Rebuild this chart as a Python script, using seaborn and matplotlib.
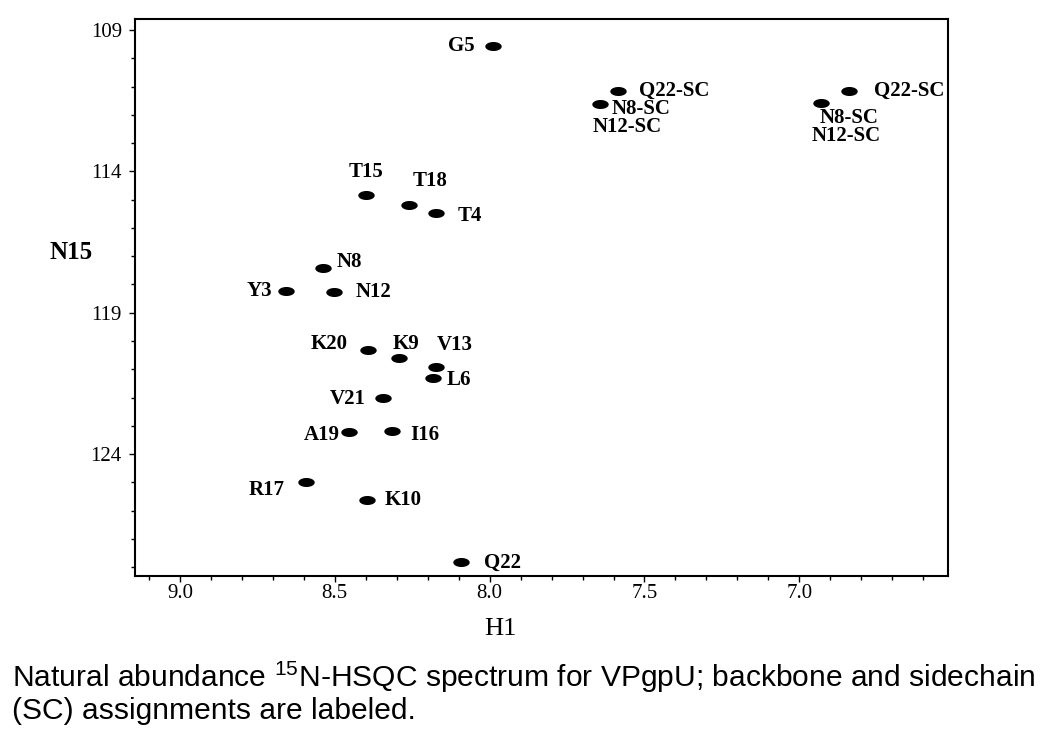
import numpy as np
import pandas as pd
import matplotlib
matplotlib.use("Agg")
import matplotlib.pyplot as plt
from matplotlib.ticker import MultipleLocator, FixedLocator
import seaborn as sns

# ---- data ----
labels = ["G5", "Q22-SC", "N8-SC", "N12-SC", "Q22-SC", "N8-SC", "N12-SC",
          "T15", "T18", "T4", "N8", "Y3", "N12", "K20", "K9", "V13", "L6",
          "V21", "A19", "I16", "R17", "K10", "Q22"]
h1 = [7.99, 7.587, 7.645, 7.645, 6.839, 6.929, 6.929,
      8.40, 8.261, 8.174, 8.539, 8.658, 8.503, 8.394, 8.294, 8.174, 8.184,
      8.345, 8.455, 8.316, 8.594, 8.397, 8.094]
n15 = [109.57, 111.16, 111.6, 111.6, 111.16, 111.58, 111.58,
       114.83, 115.18, 115.47, 117.41, 118.22, 118.26, 120.31, 120.59, 120.91, 121.30,
       122.00, 123.20, 123.17, 125.0, 125.61, 127.8]
# which rows carry a drawn peak (label-only rows share a peak with the previous one)
has_peak = [1, 1, 1, 0, 1, 1, 0,
            1, 1, 1, 1, 1, 1, 1, 1, 1, 1,
            1, 1, 1, 1, 1, 1]
x_ticks = [9.0, 8.5, 8.0, 7.5, 7.0]
x_tick_labels = ["9.0", "8.5", "8.0", "7.5", "7.0"]
y_ticks = [109, 114, 119, 124]
y_tick_labels = ["109", "114", "119", "124"]
caption_1 = "Natural abundance $^{\\mathrm{15}}$N-HSQC spectrum for VPgpU; backbone and sidechain"
caption_2 = "(SC) assignments are labeled."

# ---- label layout (pixel offsets, horizontal alignment) ----
label_layout = [(-18, 0, "right"), (21, 0, "left"), (12, -5, "left"), (-7, -23, "left"),
                (25, 0, "left"), (-2, -15, "left"), (-10, -33, "left"),
                (0, 23, "center"), (21, 24, "center"), (22, -3, "left"),
                (14, 6, "left"), (-14, 0, "right"), (22, 0, "left"),
                (-20, 6, "right"), (-6, 14, "left"), (1, 22, "left"), (14, -2, "left"),
                (-17, -1, "right"), (-9, -3, "right"), (18, -4, "left"),
                (-21, -8, "right"), (18, 0, "left"), (23, -1, "left")]

df = pd.DataFrame({"H1": h1, "N15": n15, "label": labels, "peak": has_peak})

sns.set_theme(style="white")
plt.rcParams["font.family"] = ["Liberation Serif", "DejaVu Serif"]
plt.rcParams["mathtext.fontset"] = "custom"
plt.rcParams["mathtext.rm"] = "Liberation Sans"

fig = plt.figure(figsize=(10.5, 7.34), dpi=100)
ax = fig.add_axes([135 / 1050, 1 - 576 / 734, (948 - 135) / 1050, (576 - 19) / 734])

# elliptical peak marker
t = np.linspace(0, 2 * np.pi, 40)
ellipse = np.column_stack([np.cos(t), 0.55 * np.sin(t)])

sns.scatterplot(data=df[df["peak"] == 1], x="H1", y="N15", ax=ax,
                marker=ellipse, s=140, color="black", edgecolor="black",
                linewidth=0, legend=False)

for (lab, x, y), (dx, dy, ha) in zip(zip(labels, h1, n15), label_layout):
    ax.annotate(lab, (x, y), xytext=(dx, dy), textcoords="offset pixels",
                ha=ha, va="center", fontsize=15, fontweight="bold",
                family=["Liberation Serif"], color="black")

ax.set_xlim(9.145, 6.52)
ax.set_ylim(128.31, 108.61)

ax.xaxis.set_major_locator(FixedLocator(x_ticks))
ax.set_xticklabels(x_tick_labels)
ax.xaxis.set_minor_locator(MultipleLocator(0.1))
ax.yaxis.set_major_locator(FixedLocator(y_ticks))
ax.set_yticklabels(y_tick_labels)
ax.yaxis.set_minor_locator(MultipleLocator(1))

ax.tick_params(axis="both", which="both", direction="out", color="black",
               labelsize=15, labelcolor="black")
ax.tick_params(axis="both", which="major", length=4, width=1)
ax.tick_params(axis="both", which="minor", length=3, width=1)
ax.tick_params(axis="x", which="both", bottom=True, pad=1.5)
ax.tick_params(axis="y", which="both", left=True, pad=5.5)

for side in ["left", "right", "top", "bottom"]:
    ax.spines[side].set_visible(True)
    ax.spines[side].set_color("black")
    ax.spines[side].set_linewidth(1.5)

ax.set_xlabel("H1", fontsize=19, color="black")
ax.xaxis.set_label_coords(0.45, -0.075)
ax.set_ylabel("N15", fontsize=18, fontweight="bold", rotation=0, color="black",
              va="center", ha="center")
ax.yaxis.set_label_coords(-0.079, 0.58)

fig.text(12 / 1050, 1 - 677 / 734, caption_1, ha="left", va="center",
         fontsize=21.6, family=["Liberation Sans"], color="black")
fig.text(12 / 1050, 1 - 711 / 734, caption_2, ha="left", va="center",
         fontsize=21.6, family=["Liberation Sans"], color="black")

fig.savefig("out.png", dpi=100)
